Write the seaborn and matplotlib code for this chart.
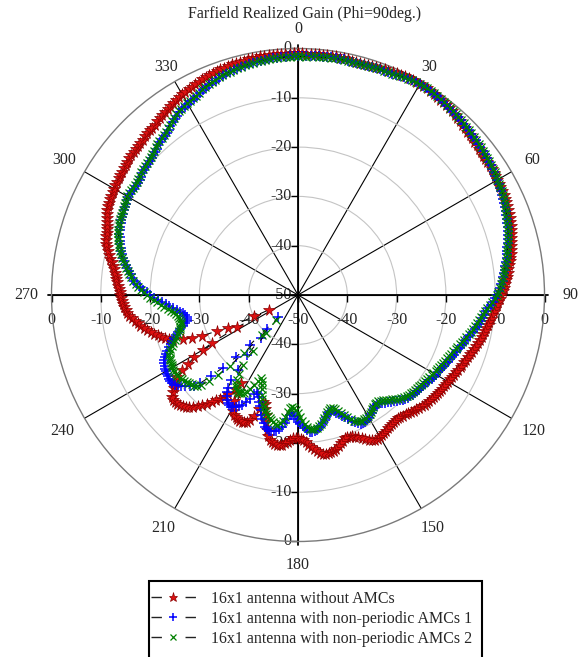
import numpy as np
import matplotlib
matplotlib.use("Agg")
import matplotlib.pyplot as plt
import seaborn as sns
from matplotlib.patches import Rectangle
from matplotlib.lines import Line2D

# phi = 90 deg cut, theta in 1 deg steps (0..359)
angles_deg = np.arange(0, 360)

gain_no_amc = [
    -1.0, -1.0, -1.0, -1.0, -1.0, -1.0, -1.0, -1.0, -1.0, -1.0,
    -1.1, -1.1, -1.1, -1.2, -1.2, -1.2, -1.2, -1.2, -1.2, -1.1,
    -1.1, -1.0, -1.0, -0.9, -0.8, -0.7, -0.6, -0.6, -0.5, -0.5,
    -0.5, -0.6, -0.6, -0.7, -0.8, -0.9, -1.0, -1.1, -1.2, -1.3,
    -1.4, -1.5, -1.7, -1.8, -2.0, -2.1, -2.3, -2.4, -2.5, -2.6,
    -2.7, -2.8, -2.9, -3.0, -3.0, -3.1, -3.1, -3.2, -3.2, -3.3,
    -3.3, -3.4, -3.5, -3.5, -3.6, -3.7, -3.8, -3.9, -4.0, -4.2,
    -4.3, -4.5, -4.6, -4.8, -5.0, -5.2, -5.4, -5.6, -5.8, -6.0,
    -6.3, -6.5, -6.7, -7.0, -7.2, -7.5, -7.7, -8.0, -8.2, -8.5,
    -8.8, -9.1, -9.4, -9.6, -9.9, -10.1, -10.4, -10.6, -10.8, -11.0,
    -11.2, -11.4, -11.6, -11.8, -12.0, -12.2, -12.4, -12.6, -12.8, -13.0,
    -13.2, -13.4, -13.6, -13.8, -13.9, -14.1, -14.3, -14.4, -14.6, -14.7,
    -14.8, -14.9, -15.0, -15.1, -15.2, -15.3, -15.4, -15.5, -15.6, -15.7,
    -15.9, -16.0, -16.2, -16.4, -16.6, -16.8, -17.0, -17.2, -17.4, -17.6,
    -17.7, -17.8, -17.8, -17.8, -17.7, -17.6, -17.4, -17.2, -17.0, -16.8,
    -16.7, -16.7, -16.8, -17.0, -17.3, -17.7, -18.2, -18.6, -19.0, -19.3,
    -19.4, -19.5, -19.4, -19.1, -18.7, -18.2, -17.8, -17.6, -17.4, -17.3,
    -17.3, -17.4, -17.7, -18.1, -18.6, -19.1, -19.6, -20.1, -20.5, -20.8,
    -21.0, -21.0, -20.9, -20.6, -20.2, -19.8, -19.5, -19.3, -19.3, -19.4,
    -19.7, -20.1, -20.8, -22.0, -23.5, -24.8, -25.9, -26.8, -27.1, -25.5,
    -23.8, -22.8, -22.3, -22.0, -21.9, -21.9, -22.0, -22.2, -22.5, -23.0,
    -23.7, -24.8, -26.5, -28.7, -27.0, -25.4, -24.4, -23.6, -22.9, -22.2,
    -21.2, -20.4, -19.6, -18.9, -18.3, -17.8, -17.5, -17.3, -17.1, -16.9,
    -16.8, -17.2, -17.9, -18.5, -19.0, -19.5, -20.2, -22.0, -23.7, -25.5,
    -27.7, -30.1, -36.0, -43.5, -40.1, -34.3, -32.0, -28.8, -26.8, -25.1,
    -23.1, -22.3, -21.6, -21.0, -20.4, -19.8, -19.2, -18.5, -18.0, -17.4,
    -17.0, -16.5, -16.0, -15.5, -15.2, -14.9, -14.6, -14.4, -14.2, -14.0,
    -13.9, -13.8, -13.6, -13.4, -13.2, -13.0, -12.8, -12.6, -12.3, -12.0,
    -11.6, -11.2, -10.8, -10.4, -10.0, -9.7, -9.5, -9.3, -9.2, -9.0,
    -8.8, -8.5, -8.2, -7.9, -7.7, -7.5, -7.4, -7.3, -7.1, -7.0,
    -6.9, -6.8, -6.7, -6.6, -6.5, -6.4, -6.3, -6.2, -6.1, -6.0,
    -5.9, -5.8, -5.7, -5.6, -5.5, -5.4, -5.3, -5.2, -5.1, -5.0,
    -4.9, -4.7, -4.5, -4.3, -4.1, -3.9, -3.7, -3.5, -3.3, -3.2,
    -3.0, -2.9, -2.7, -2.6, -2.4, -2.3, -2.1, -2.0, -1.9, -1.8,
    -1.7, -1.6, -1.5, -1.4, -1.3, -1.3, -1.2, -1.2, -1.1, -1.1,
    -1.1, -1.0, -1.0, -1.0, -1.0, -1.0, -1.0, -1.0, -1.0, -1.0,
]

gain_amc1 = [
    -1.5, -1.5, -1.5, -1.4, -1.4, -1.4, -1.4, -1.3, -1.3, -1.3,
    -1.3, -1.3, -1.4, -1.4, -1.4, -1.4, -1.4, -1.4, -1.4, -1.4,
    -1.3, -1.3, -1.2, -1.2, -1.1, -1.0, -0.9, -0.8, -0.7, -0.7,
    -0.6, -0.6, -0.6, -0.7, -0.7, -0.8, -0.9, -1.0, -1.1, -1.2,
    -1.3, -1.4, -1.5, -1.6, -1.7, -1.8, -1.9, -2.0, -2.1, -2.2,
    -2.3, -2.4, -2.5, -2.6, -2.7, -2.8, -2.9, -3.0, -3.1, -3.3,
    -3.4, -3.5, -3.6, -3.7, -3.9, -4.1, -4.2, -4.4, -4.6, -4.8,
    -4.9, -5.1, -5.3, -5.5, -5.7, -5.9, -6.1, -6.4, -6.6, -6.8,
    -7.0, -7.2, -7.5, -7.7, -7.9, -8.2, -8.4, -8.7, -9.0, -9.2,
    -9.6, -10.0, -10.4, -10.9, -11.3, -11.7, -12.0, -12.3, -12.6, -12.9,
    -13.2, -13.5, -13.8, -14.1, -14.4, -14.7, -15.0, -15.3, -15.5, -15.8,
    -16.0, -16.2, -16.4, -16.6, -16.8, -17.0, -17.1, -17.3, -17.4, -17.6,
    -17.7, -17.9, -18.0, -18.2, -18.3, -18.5, -18.6, -18.7, -18.8, -18.9,
    -19.0, -19.2, -19.3, -19.5, -19.7, -20.0, -20.3, -20.7, -21.0, -21.3,
    -21.6, -21.9, -22.2, -22.5, -22.6, -22.6, -22.4, -22.1, -21.8, -21.5,
    -21.2, -21.0, -20.9, -20.9, -21.0, -21.3, -21.7, -22.2, -22.8, -23.4,
    -23.9, -24.4, -24.9, -25.3, -25.5, -25.4, -25.1, -24.6, -24.1, -23.6,
    -23.1, -22.7, -22.4, -22.2, -22.1, -22.2, -22.5, -22.9, -23.4, -23.9,
    -24.3, -24.9, -25.5, -26.0, -25.6, -24.8, -23.9, -23.1, -22.5, -22.1,
    -21.9, -21.8, -21.9, -22.1, -22.5, -23.1, -23.8, -24.6, -25.4, -26.2,
    -27.0, -27.8, -28.4, -28.7, -28.0, -26.8, -25.8, -25.0, -24.4, -24.0,
    -23.7, -23.6, -23.6, -23.9, -24.4, -25.0, -25.6, -26.5, -28.0, -30.5,
    -34.0, -38.5, -44.0, -40.7, -35.9, -32.1, -28.8, -25.9, -23.2, -22.0,
    -21.3, -20.6, -20.0, -19.5, -19.1, -18.9, -18.8, -18.8, -18.9, -18.9,
    -19.0, -19.2, -19.4, -19.6, -19.8, -20.2, -20.6, -21.1, -21.7, -22.3,
    -22.9, -23.4, -24.0, -24.6, -25.2, -25.9, -26.4, -26.8, -27.0, -27.0,
    -26.7, -26.3, -25.9, -25.3, -24.6, -23.8, -23.1, -22.3, -21.5, -20.8,
    -20.0, -19.3, -18.6, -17.9, -17.3, -16.7, -16.2, -15.8, -15.3, -14.9,
    -14.5, -14.1, -13.8, -13.4, -13.1, -12.8, -12.5, -12.2, -12.0, -11.7,
    -11.5, -11.3, -11.2, -11.1, -11.0, -10.9, -10.8, -10.6, -10.5, -10.3,
    -10.2, -10.2, -10.3, -10.4, -10.4, -10.4, -10.3, -10.1, -9.9, -9.8,
    -9.7, -9.6, -9.5, -9.4, -9.2, -8.9, -8.7, -8.5, -8.3, -8.1,
    -7.9, -7.7, -7.4, -7.0, -6.7, -6.4, -6.1, -5.8, -5.6, -5.4,
    -5.3, -5.1, -5.0, -4.8, -4.5, -4.2, -4.0, -3.8, -3.6, -3.4,
    -3.2, -3.0, -2.9, -2.7, -2.6, -2.5, -2.4, -2.3, -2.2, -2.1,
    -2.0, -1.9, -1.8, -1.8, -1.7, -1.7, -1.6, -1.6, -1.5, -1.5,
]

gain_amc2 = [
    -1.6, -1.6, -1.6, -1.5, -1.5, -1.5, -1.5, -1.4, -1.4, -1.4,
    -1.4, -1.4, -1.4, -1.5, -1.5, -1.5, -1.5, -1.5, -1.4, -1.4,
    -1.3, -1.3, -1.2, -1.2, -1.1, -1.0, -0.9, -0.8, -0.7, -0.6,
    -0.6, -0.5, -0.5, -0.6, -0.6, -0.7, -0.8, -0.9, -1.0, -1.1,
    -1.2, -1.3, -1.4, -1.5, -1.6, -1.7, -1.8, -1.9, -2.0, -2.1,
    -2.2, -2.3, -2.4, -2.5, -2.6, -2.7, -2.8, -2.9, -3.0, -3.2,
    -3.3, -3.4, -3.5, -3.6, -3.8, -4.0, -4.1, -4.3, -4.5, -4.7,
    -4.9, -5.1, -5.3, -5.5, -5.7, -5.9, -6.1, -6.4, -6.6, -6.8,
    -7.0, -7.3, -7.5, -7.8, -8.0, -8.3, -8.5, -8.8, -9.1, -9.4,
    -9.7, -10.1, -10.6, -11.0, -11.5, -11.9, -12.3, -12.6, -12.9, -13.3,
    -13.6, -13.9, -14.2, -14.5, -14.8, -15.1, -15.4, -15.7, -16.0, -16.2,
    -16.5, -16.7, -16.9, -17.1, -17.3, -17.5, -17.7, -17.8, -18.0, -18.1,
    -18.3, -18.4, -18.6, -18.7, -18.9, -19.0, -19.1, -19.2, -19.3, -19.4,
    -19.5, -19.6, -19.7, -19.9, -20.1, -20.4, -20.8, -21.2, -21.6, -21.9,
    -22.2, -22.5, -22.8, -23.0, -23.0, -22.9, -22.7, -22.4, -22.1, -21.8,
    -21.6, -21.4, -21.4, -21.4, -21.5, -21.7, -22.1, -22.6, -23.3, -24.0,
    -24.6, -25.2, -25.7, -26.0, -26.1, -25.9, -25.5, -25.0, -24.5, -23.9,
    -23.4, -23.0, -22.7, -22.6, -22.6, -22.8, -23.2, -23.8, -24.5, -25.3,
    -26.0, -26.6, -27.1, -27.3, -27.0, -26.2, -25.2, -24.3, -23.7, -23.4,
    -23.5, -23.7, -24.0, -24.3, -24.7, -25.1, -25.6, -26.2, -26.8, -27.6,
    -28.5, -29.5, -30.4, -31.1, -31.5, -30.8, -29.6, -28.6, -27.8, -27.3,
    -27.0, -26.8, -26.9, -27.1, -27.5, -28.0, -28.8, -30.0, -32.0, -35.5,
    -40.0, -43.3, -39.0, -34.0, -30.0, -27.0, -24.8, -23.2, -22.4, -22.0,
    -21.8, -21.6, -21.3, -21.1, -20.9, -20.7, -20.5, -20.4, -20.4, -20.5,
    -20.6, -20.7, -20.8, -20.9, -21.0, -21.2, -21.5, -21.9, -22.4, -22.9,
    -23.4, -23.9, -24.3, -24.7, -25.0, -25.3, -25.5, -25.6, -25.6, -25.5,
    -25.2, -24.9, -24.5, -24.0, -23.4, -22.8, -22.1, -21.4, -20.7, -20.0,
    -19.4, -18.8, -18.2, -17.6, -17.0, -16.5, -16.0, -15.5, -15.1, -14.7,
    -14.3, -13.9, -13.5, -13.2, -12.8, -12.5, -12.2, -11.9, -11.7, -11.4,
    -11.2, -11.0, -10.9, -10.8, -10.7, -10.6, -10.5, -10.4, -10.2, -10.1,
    -10.0, -10.0, -10.0, -10.1, -10.1, -10.1, -10.0, -9.8, -9.6, -9.5,
    -9.4, -9.3, -9.2, -9.1, -8.9, -8.6, -8.4, -8.2, -8.0, -7.8,
    -7.6, -7.4, -7.1, -6.7, -6.4, -6.1, -5.8, -5.6, -5.4, -5.2,
    -5.1, -4.9, -4.8, -4.6, -4.3, -4.0, -3.8, -3.6, -3.4, -3.2,
    -3.0, -2.9, -2.7, -2.6, -2.5, -2.4, -2.3, -2.2, -2.1, -2.0,
    -1.9, -1.9, -1.8, -1.8, -1.7, -1.7, -1.7, -1.6, -1.6, -1.6,
]

series_names = [
    "16x1 antenna without AMCs",
    "16x1 antenna with non-periodic AMCs 1",
    "16x1 antenna with non-periodic AMCs 2",
]
angle_ticks = list(range(0, 360, 30))
angle_labels = [str(a) for a in angle_ticks]
r_ticks = [0, -10, -20, -30, -40, -50]
title = "Farfield Realized Gain (Phi=90deg.)"

sns.set_style("white")
plt.rcParams["font.family"] = ["Liberation Serif", "DejaVu Serif"]
FS = 11.5

fig = plt.figure(figsize=(5.79, 6.57), dpi=100)
ax = fig.add_axes([0.08895, 0.1758, 0.85147, 0.75038], projection="polar")
ax.set_theta_zero_location("N")
ax.set_theta_direction(-1)
ax.set_ylim(-50, 0)

# grid: black spokes every 30 deg, light grey rings
ax.set_xticks(np.deg2rad(angle_ticks))
ax.set_xticklabels([])
ax.set_yticks(r_ticks[1:-1])
ax.set_yticklabels([])
ax.tick_params(length=0)
ax.xaxis.grid(True, color="black", lw=0.8)
ax.yaxis.grid(True, color="#c4c4c4", lw=0.8)
ax.spines["polar"].set_color("#7a7a7a")
ax.spines["polar"].set_linewidth(1.0)

# the two main value axes through the centre
ax.plot(np.deg2rad([270, 0, 90]), [0.7, -50, 0.7], color="black", lw=1.3,
        clip_on=False, zorder=2)
ax.plot(np.deg2rad([0, 0, 180]), [0.7, -50, 0.7], color="black", lw=1.3,
        clip_on=False, zorder=2)
for ang in [0, 180]:
    ax.plot(np.full(len(r_ticks), np.deg2rad(ang)), r_ticks, ls="", marker=0,
            ms=5, mew=1.0, color="black", clip_on=False, zorder=2)
for ang in [90, 270]:
    ax.plot(np.full(len(r_ticks), np.deg2rad(ang)), r_ticks, ls="", marker=3,
            ms=5, mew=1.0, color="black", clip_on=False, zorder=2)

# value labels on the axes
for v in r_ticks:
    ax.annotate(str(v), xy=(0, v), xytext=(-4.5, 0), textcoords="offset points",
                ha="right", va="center", fontsize=FS, zorder=1, annotation_clip=False)
for v in r_ticks[:-1]:
    ax.annotate(str(v), xy=(np.pi, v), xytext=(-4.5, 0), textcoords="offset points",
                ha="right", va="center", fontsize=FS, zorder=1, annotation_clip=False)
for v in r_ticks:
    ax.annotate(str(v), xy=(np.deg2rad(270), v), xytext=(0, -12.5),
                textcoords="offset points", ha="center", va="top", fontsize=FS,
                zorder=1, annotation_clip=False)
for v in r_ticks[:-1]:
    ax.annotate(str(v), xy=(np.deg2rad(90), v), xytext=(0, -12.5),
                textcoords="offset points", ha="center", va="top", fontsize=FS,
                zorder=1, annotation_clip=False)

# angle labels around the outside
label_pad_px = [266, 263, 270, 272, 272, 269, 270, 269, 272, 272, 270, 263]
for a, lab, pad in zip(angle_ticks, angle_labels, label_pad_px):
    ax.text(np.deg2rad(a), pad / 4.93 - 50, lab, ha="center", va="center",
            fontsize=FS, clip_on=False)

theta = np.deg2rad(np.append(angles_deg, 360))
styles = [
    dict(marker="*", markersize=8.5, markerfacecolor="#dd1111",
         markeredgecolor="#8b0000", markeredgewidth=0.5),
    dict(marker="+", markersize=6.5, markerfacecolor="#0000ff",
         markeredgecolor="#0000ff", markeredgewidth=1.1),
    dict(marker="x", markersize=5.8, markerfacecolor="#008000",
         markeredgecolor="#008000", markeredgewidth=0.9),
]
handles = []
for vals, name, st in zip([gain_no_amc, gain_amc1, gain_amc2], series_names, styles):
    r = np.append(vals, vals[0])
    sns.lineplot(x=theta, y=r, ax=ax, sort=False, estimator=None, legend=False,
                 color="black", linewidth=0.75, linestyle=(0, (7.7, 11.5)),
                 label=name, zorder=4, clip_on=False, **st)
    # legend proxy: dash - marker - dash, slightly smaller marker
    proxy_st = dict(st)
    proxy_st["markersize"] = st["markersize"] * 0.8
    handles.append(Line2D([], [], color="#222222", linewidth=1.0,
                          linestyle=(0, (7.5, 17.0)), **proxy_st))
if ax.get_legend() is not None:
    ax.get_legend().remove()
ax.set_xlabel("")
ax.set_ylabel("")

fig.text(305 / 579, 1 - 14 / 657, title, ha="center", va="center", fontsize=FS)

fig.patches.append(Rectangle((149 / 579, -20 / 657), 333 / 579, 96 / 657,
                             transform=fig.transFigure, fill=False,
                             edgecolor="black", lw=1.5, zorder=1))
fig.legend(handles, series_names, loc="upper left",
           bbox_to_anchor=(151 / 579, 1 - 591 / 657), frameon=False,
           borderpad=0, borderaxespad=0, handlelength=2.8, handletextpad=0.95,
           labelspacing=0.25, fontsize=FS, numpoints=1)

fig.savefig("out.png", dpi=100)
